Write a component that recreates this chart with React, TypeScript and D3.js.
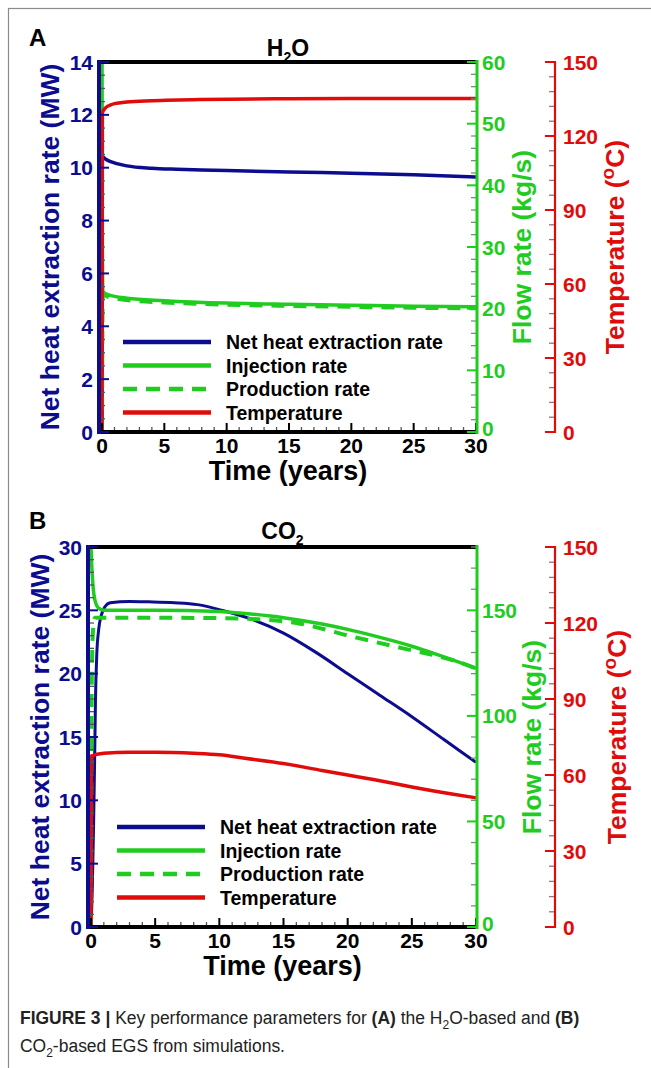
import React, { useEffect, useRef } from 'react';
import * as d3 from 'd3';

// [time (years), value]
// H2O panel
const h2oHeat = [[0, 0], [0.03, 10.42], [0.3, 10.32], [1, 10.18], [2, 10.07], [4, 9.98], [6, 9.94], [8, 9.91], [10, 9.89], [15, 9.84], [20, 9.79], [25, 9.73], [30, 9.65]];
const h2oInjection = [[0, 64], [0.03, 30], [0.08, 22.8], [0.3, 22.4], [1, 22.0], [2, 21.7], [5, 21.3], [10, 20.9], [15, 20.7], [20, 20.55], [25, 20.4], [30, 20.3]];
const h2oProduction = [[0, 0], [0.06, 22.4], [0.3, 22.1], [1, 21.7], [2, 21.4], [5, 21.0], [10, 20.65], [15, 20.45], [20, 20.3], [25, 20.15], [30, 20.05]];
const h2oTemp = [[0, 0], [0.03, 129.5], [0.3, 131.5], [0.7, 132.6], [1, 133.1], [2, 133.8], [4, 134.3], [8, 134.8], [15, 135.1], [20, 135.2], [30, 135.2]];

// CO2 panel
const co2Heat = [[0, 0], [0.1, 3], [0.2, 8], [0.28, 13], [0.35, 18], [0.45, 21.5], [0.6, 23.5], [0.8, 24.6], [1.1, 25.3], [1.5, 25.6], [3, 25.7], [4.5, 25.67], [6.5, 25.6], [8.3, 25.45], [10.4, 24.95], [12.5, 24.3], [15, 23.2], [17.5, 21.7], [20, 20.0], [22.5, 18.3], [25, 16.6], [27.5, 14.8], [30, 13.0]];
const co2Injection = [[0, 180], [0.05, 172], [0.15, 162], [0.3, 155], [0.6, 151], [1, 150], [5, 150], [10, 149.5], [12, 148.5], [15, 146.5], [18, 143.5], [20, 141], [22, 138], [25, 133], [27, 129], [30, 122.5]];
const co2Production = [[0, 0], [0.05, 110], [0.15, 140], [0.3, 146.5], [5, 146.5], [10, 146.3], [12.2, 146.0], [16, 144], [20.4, 137.5], [24.3, 132], [26.8, 128.6], [29, 124.8], [30, 122.5]];
const co2Temp = [[0, 0], [0.03, 67.5], [1, 68.6], [3, 69.0], [5, 69.0], [8, 68.6], [10, 68.0], [12, 66.6], [15, 64.5], [18, 61.8], [20, 60.0], [22, 58.2], [25, 55.3], [28, 52.6], [30, 51.0]];

const timeTicks = [0, 5, 10, 15, 20, 25, 30];
const tempTicks = [0, 30, 60, 90, 120, 150];
const h2oMwTicks = [0, 2, 4, 6, 8, 10, 12, 14];
const co2MwTicks = [0, 5, 10, 15, 20, 25, 30];
const h2oFlowTicks = [0, 10, 20, 30, 40, 50, 60];
const co2FlowTicks = [0, 50, 100, 150];
const legendLabels = ['Net heat extraction rate', 'Injection rate', 'Production rate', 'Temperature'];

const BLUE = '#0c0c8e';
const GREEN = '#1fcc1f';
const RED = '#e00c0c';
const FONT = '"Liberation Sans", Arial, sans-serif';

const panels = [
    {
        letter: 'A', titleA: 'H', titleB: 'O', titleY: 56, letterY: 46,
        left: 100, right: 476, top: 62, bottom: 432,
        mwMax: 14, mwTicks: h2oMwTicks, mwMinor: 0.5,
        flowMax: 60, flowTicks: h2oFlowTicks, flowMinor: 2,
        heat: h2oHeat, inj: h2oInjection, prod: h2oProduction, temp: h2oTemp,
        heatWidth: 3.5,
        legendX: 123, legendY: 342, leftTitleX: 59, greenTitleX: 531, redTitleX: 624,
    },
    {
        letter: 'B', titleA: 'CO', titleB: '', titleY: 539, letterY: 529,
        left: 89, right: 476, top: 547, bottom: 927,
        mwMax: 30, mwTicks: co2MwTicks, mwMinor: 1,
        flowMax: 180, flowTicks: co2FlowTicks, flowMinor: 10,
        heat: co2Heat, inj: co2Injection, prod: co2Production, temp: co2Temp,
        heatWidth: 3,
        legendX: 117, legendY: 827, leftTitleX: 49, greenTitleX: 541, redTitleX: 626,
    },
];

const drawPanel = (svg, p) => {
    const g = svg.append('g');
    const x = d3.scaleLinear().domain([0, 30]).range([p.left + 2, p.right]);
    const yMw = d3.scaleLinear().domain([0, p.mwMax]).range([p.bottom, p.top]);
    const yFlow = d3.scaleLinear().domain([0, p.flowMax]).range([p.bottom, p.top]);
    const yTemp = d3.scaleLinear().domain([0, 150]).range([p.bottom, p.top]);
    const redX = 555;

    const clipId = 'clip' + p.letter;
    g.append('clipPath').attr('id', clipId)
        .append('rect')
        .attr('x', p.left).attr('y', p.top)
        .attr('width', p.right - p.left).attr('height', p.bottom - p.top);

    const line = (ys) => d3.line()
        .x(d => x(d[0]))
        .y(d => ys(d[1]))
        .curve(d3.curveMonotoneX);

    const data = g.append('g').attr('clip-path', `url(#${clipId})`).attr('fill', 'none');
    data.append('path').attr('d', line(yMw)(p.heat)).attr('stroke', BLUE).attr('stroke-width', p.heatWidth);
    data.append('path').attr('d', line(yFlow)(p.prod)).attr('stroke', GREEN).attr('stroke-width', 4)
        .attr('stroke-dasharray', '13,9');
    data.append('path').attr('d', line(yFlow)(p.inj)).attr('stroke', GREEN).attr('stroke-width', 3.5);
    data.append('path').attr('d', line(yTemp)(p.temp)).attr('stroke', RED).attr('stroke-width', 3.5);

    // time axis (bottom + top frame)
    const ax = g.append('g');
    d3.range(0, 31, 1).forEach(t => {
        const major = t % 5 === 0;
        ax.append('line')
            .attr('x1', x(t)).attr('x2', x(t))
            .attr('y1', p.bottom).attr('y2', p.bottom - (major ? 9 : 5))
            .attr('stroke', major ? '#000' : '#555').attr('stroke-width', major ? 2 : 1.3);
    });
    ax.append('line').attr('x1', p.left - 2).attr('x2', p.right).attr('y1', p.bottom).attr('y2', p.bottom)
        .attr('stroke', '#000').attr('stroke-width', 4);
    ax.append('line').attr('x1', p.left - 2).attr('x2', p.right).attr('y1', p.top).attr('y2', p.top)
        .attr('stroke', '#000').attr('stroke-width', 4);
    timeTicks.forEach(t => {
        ax.append('text').attr('x', x(t)).attr('y', p.bottom + 21)
            .attr('text-anchor', 'middle').attr('font-size', 21).attr('font-weight', 'bold')
            .attr('fill', '#000').text(t);
    });
    ax.append('text').attr('x', (p.left + p.right) / 2).attr('y', p.bottom + 48)
        .attr('text-anchor', 'middle').attr('font-size', 27).attr('font-weight', 'bold')
        .text('Time (years)');

    // left MW axis
    const al = g.append('g');
    d3.range(0, p.mwMax + 1e-6, p.mwMinor).forEach(v => {
        const major = p.mwTicks.some(m => Math.abs(m - v) < 1e-6);
        al.append('line')
            .attr('x1', p.left).attr('x2', p.left + (major ? 9 : 5))
            .attr('y1', yMw(v)).attr('y2', yMw(v))
            .attr('stroke', major ? BLUE : '#555').attr('stroke-width', major ? 2 : 1.3);
    });
    al.append('line').attr('x1', p.left - 1).attr('x2', p.left - 1).attr('y1', p.top - 2).attr('y2', p.bottom + 2)
        .attr('stroke', BLUE).attr('stroke-width', 4);
    p.mwTicks.forEach(v => {
        al.append('text').attr('x', p.left - 7).attr('y', yMw(v)).attr('dy', '0.36em')
            .attr('text-anchor', 'end').attr('font-size', 21).attr('font-weight', 'bold')
            .attr('fill', BLUE).text(v);
    });
    al.append('text')
        .attr('transform', `translate(${p.leftTitleX},${(p.top + p.bottom) / 2}) rotate(-90)`)
        .attr('text-anchor', 'middle').attr('font-size', 26.5).attr('font-weight', 'bold')
        .attr('fill', BLUE).text('Net heat extraction rate (MW)');

    // right flow axis
    const ar = g.append('g');
    d3.range(0, p.flowMax + 1e-6, p.flowMinor).forEach(v => {
        const major = p.flowTicks.includes(v);
        ar.append('line')
            .attr('x1', p.right).attr('x2', p.right - (major ? 9 : 5))
            .attr('y1', yFlow(v)).attr('y2', yFlow(v))
            .attr('stroke', major ? GREEN : '#6a9a6a').attr('stroke-width', major ? 2 : 1.3);
    });
    ar.append('line').attr('x1', p.right + 1).attr('x2', p.right + 1).attr('y1', p.top - 2).attr('y2', p.bottom + 2)
        .attr('stroke', GREEN).attr('stroke-width', 3);
    p.flowTicks.forEach(v => {
        ar.append('text').attr('x', p.right + 6).attr('y', yFlow(v)).attr('dy', v === 0 ? '0.2em' : '0.36em')
            .attr('font-size', 21).attr('font-weight', 'bold')
            .attr('fill', GREEN).text(v);
    });
    ar.append('text')
        .attr('transform', `translate(${p.greenTitleX},${(p.top + p.bottom) / 2}) rotate(-90)`)
        .attr('text-anchor', 'middle').attr('font-size', 26.5).attr('font-weight', 'bold')
        .attr('fill', GREEN).text('Flow rate (kg/s)');

    // temperature axis
    const at = g.append('g');
    d3.range(0, 151, 6).forEach(v => {
        const major = v % 30 === 0;
        at.append('line')
            .attr('x1', redX).attr('x2', redX - (major ? 10 : 6))
            .attr('y1', yTemp(v)).attr('y2', yTemp(v))
            .attr('stroke', major ? RED : '#a07070').attr('stroke-width', major ? 2 : 1.3);
    });
    at.append('line').attr('x1', redX).attr('x2', redX).attr('y1', p.top - 1).attr('y2', p.bottom + 1)
        .attr('stroke', RED).attr('stroke-width', 2.2);
    tempTicks.forEach(v => {
        at.append('text').attr('x', redX + 8).attr('y', yTemp(v)).attr('dy', '0.36em')
            .attr('font-size', 21).attr('font-weight', 'bold')
            .attr('fill', RED).text(v);
    });
    const tt = at.append('text')
        .attr('transform', `translate(${p.redTitleX},${(p.top + p.bottom) / 2}) rotate(-90)`)
        .attr('text-anchor', 'middle').attr('font-size', 26.5).attr('font-weight', 'bold')
        .attr('fill', RED);
    tt.append('tspan').text('Temperature (');
    tt.append('tspan').attr('font-size', 19).attr('dy', -10).text('o');
    tt.append('tspan').attr('dy', 10).text('C)');

    // legend
    const lg = g.append('g');
    const styles = [
        { c: BLUE, dash: null },
        { c: GREEN, dash: null },
        { c: GREEN, dash: '14,9' },
        { c: RED, dash: null },
    ];
    legendLabels.forEach((lab, i) => {
        const ly = p.legendY + i * 23.5;
        lg.append('line').attr('x1', p.legendX).attr('x2', p.legendX + 88)
            .attr('y1', ly).attr('y2', ly)
            .attr('stroke', styles[i].c).attr('stroke-width', 4.5)
            .attr('stroke-dasharray', styles[i].dash);
        lg.append('text').attr('x', p.legendX + 103).attr('y', ly).attr('dy', '0.36em')
            .attr('font-size', 19.5).attr('font-weight', 'bold').attr('fill', '#000').text(lab);
    });

    // panel letter and title
    g.append('text').attr('x', 29).attr('y', p.letterY)
        .attr('font-size', 24).attr('font-weight', 'bold').text(p.letter);
    const ti = g.append('text').attr('x', (p.left + p.right) / 2).attr('y', p.titleY)
        .attr('text-anchor', 'middle').attr('font-size', 23).attr('font-weight', 'bold');
    ti.append('tspan').text(p.titleA);
    ti.append('tspan').attr('font-size', 14).attr('dy', 6).text('2');
    ti.append('tspan').attr('dy', -6).text(p.titleB);
};

const captionRuns = [
    [
        { t: 'FIGURE 3 | ', b: true }, { t: 'Key performance parameters for ' }, { t: '(A)', b: true },
        { t: ' the H' }, { t: '2', sub: true }, { t: 'O-based and ' }, { t: '(B)', b: true },
    ],
    [
        { t: 'CO' }, { t: '2', sub: true }, { t: '-based EGS from simulations.' },
    ],
];

const App = () => {
    const chartRef = useRef(null);

    useEffect(() => {
        drawChart();
    }, []);

    const drawChart = () => {
        const svg = d3.select(chartRef.current);
        svg.selectAll('*').remove();
        svg.attr('font-family', FONT);

        svg.append('rect').attr('x', 8.5).attr('y', 8.5).attr('width', 700).attr('height', 1100)
            .attr('fill', 'none').attr('stroke', '#8a8a8a').attr('stroke-width', 1.2);

        panels.forEach(p => drawPanel(svg, p));

        const cap = svg.append('g').attr('transform', 'translate(20,0) scale(0.92,1)');
        captionRuns.forEach((runs, i) => {
            const txt = cap.append('text').attr('x', 0).attr('y', 1024 + i * 28)
                .attr('font-size', 19).attr('fill', '#222');
            let shifted = false;
            runs.forEach(r => {
                const ts = txt.append('tspan').text(r.t);
                if (r.b) ts.attr('font-weight', 'bold');
                if (r.sub) {
                    ts.attr('font-size', 13).attr('dy', 5);
                    shifted = true;
                } else if (shifted) {
                    ts.attr('dy', -5);
                    shifted = false;
                }
            });
        });
    };

    return (
        <svg ref={chartRef} width={651} height={1068}
            style={{ position: 'absolute', left: 0, top: 0, background: '#fff' }} />
    );
};

export default App;
